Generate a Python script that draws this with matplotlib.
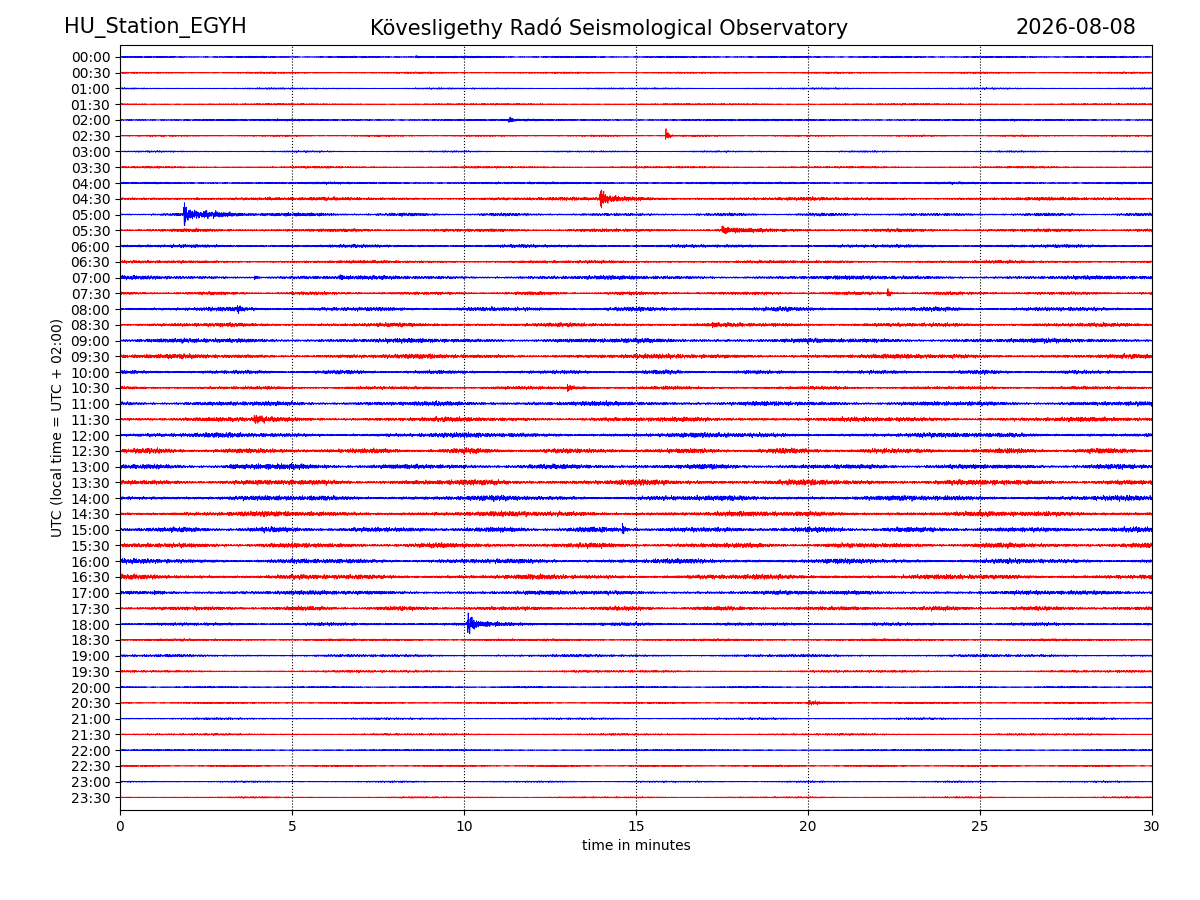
import numpy as np
import matplotlib
matplotlib.use("Agg")
import matplotlib.pyplot as plt

station = "HU_Station_EGYH"
observatory = "Kövesligethy Radó Seismological Observatory"
date_label = "2026-08-08"

row_labels = ["%02d:%02d" % (h, m) for h in range(24) for m in (0, 30)]

# background noise level of each half-hour line (in line spacings)
noise_level = [0.025, 0.025, 0.025, 0.025, 0.03, 0.025, 0.025, 0.03,
               0.035, 0.05, 0.045, 0.05, 0.05, 0.045, 0.06, 0.05,
               0.065, 0.06, 0.07, 0.07, 0.06, 0.05, 0.07, 0.07,
               0.075, 0.08, 0.075, 0.085, 0.08, 0.08, 0.08, 0.075,
               0.075, 0.075, 0.065, 0.065, 0.05, 0.035, 0.04, 0.035,
               0.025, 0.025, 0.03, 0.03, 0.025, 0.025, 0.025, 0.025]

# events: (row, start minute, spike amplitude, coda amplitude, coda decay minutes)
events = [(0, 8.6, 0.05, 0.05, 1.2), (4, 11.3, 0.1, 0.03, 0.3), (5, 15.85, 0.45, 0.03, 0.1),
          (9, 2.2, 0.05, 0.05, 1.5), (9, 4.3, 0.12, 0.03, 0.3), (9, 13.95, 0.4, 0.11, 1.5),
          (10, 1.85, 0.8, 0.16, 2.2), (11, 17.5, 0.15, 0.11, 1.2), (14, 3.9, 0.16, 0.03, 0.1),
          (14, 6.4, 0.16, 0.03, 0.1), (15, 22.3, 0.18, 0.05, 0.3), (16, 3.4, 0.12, 0.05, 0.4),
          (17, 17.2, 0.09, 0.06, 0.6), (21, 13.0, 0.08, 0.06, 1.0), (22, 11.9, 0.08, 0.05, 0.8),
          (23, 3.9, 0.12, 0.08, 0.6), (26, 3.2, 0.09, 0.09, 2.5), (30, 14.6, 0.22, 0.03, 0.1),
          (34, 1.0, 0.08, 0.06, 0.8), (36, 10.1, 0.6, 0.11, 1.8), (41, 20.0, 0.05, 0.05, 2.0)]

n = 6000
t = np.linspace(0, 30, n)
# deterministic "noise" carrier: sum of incommensurate sines
def carrier(k):
    x = np.zeros(n)
    for j, f in enumerate([37.1, 53.7, 71.3, 97.9, 131.7, 163.3, 211.9]):
        x += np.sin(2 * np.pi * f * t + 1.7 * k * (j + 1) + j)
    x *= 1 + 0.4 * np.sin(2 * np.pi * t / (3.1 + k % 5) + k)
    return x / 3.0

fig = plt.figure(figsize=(12, 9), dpi=100)
ax = fig.add_axes([0.1, 0.1, 0.86, 0.85])
for i in range(len(row_labels)):
    y = noise_level[i] * carrier(i)
    for r, t0, spike, coda, dec in events:
        if r == i:
            dt = t - t0
            env = np.where(dt >= 0, spike * np.exp(-dt / 0.08) + coda * np.exp(-dt / dec), 0.0)
            y += env * carrier(i + 100)
    ax.plot(t, i - y, color="blue" if i % 2 == 0 else "red", lw=0.6)

ax.set_xlim(0, 30)
ax.set_ylim(47.8, -0.76)
ax.set_yticks(range(len(row_labels)))
ax.set_yticklabels(row_labels)
ax.set_xticks(range(0, 31, 5))
ax.xaxis.grid(True, linestyle=":", color="black", lw=0.8)
ax.set_xlabel("time in minutes")
ax.set_ylabel("UTC (local time = UTC + 02:00)")

fig.text(0.053, 0.969, station, fontsize=15, va="center", ha="left")
fig.text(0.508, 0.969, observatory, fontsize=15, va="center", ha="center")
fig.text(0.947, 0.969, date_label, fontsize=15, va="center", ha="right")

fig.savefig("out.png", dpi=100)
